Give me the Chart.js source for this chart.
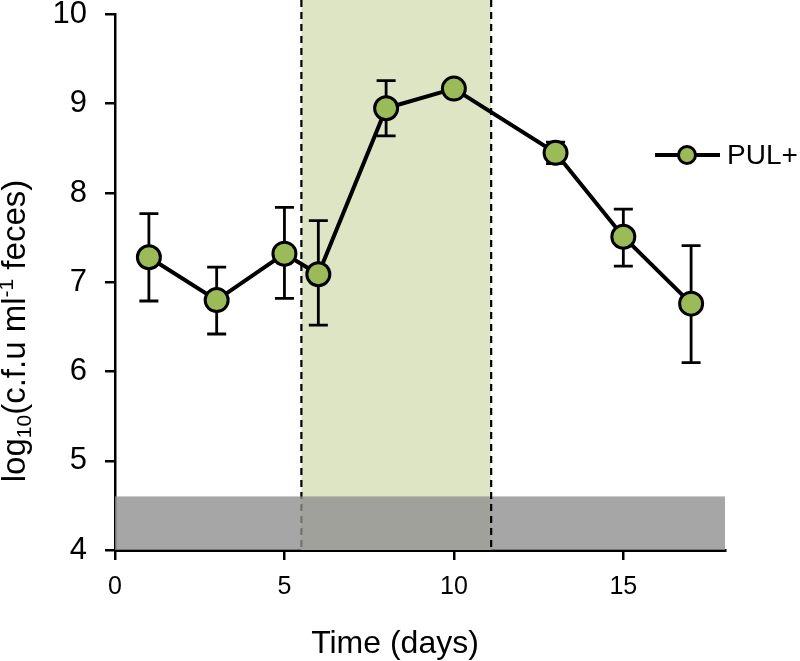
<!DOCTYPE html>
<html>
<head>
<meta charset="utf-8">
<script src="https://cdn.jsdelivr.net/npm/chart.js@4.4.1/dist/chart.umd.min.js"></script>
<style>
  html, body { margin: 0; padding: 0; background: #fff; }
  #wrap { width: 800px; height: 661px; position: relative; }
</style>
</head>
<body>
<div id="wrap"><canvas id="c" width="800" height="661"></canvas></div>
<script>
// ---- data ----
const seriesLabel = 'PUL+';
const days   = [1, 3, 5, 6, 8, 10, 13, 15, 17];
const means  = [7.28, 6.80, 7.32, 7.09, 8.95, 9.17, 8.45, 7.51, 6.76];
const errUp  = [0.49, 0.37, 0.52, 0.60, 0.31, 0.04, 0.12, 0.31, 0.65];
const errDn  = [0.49, 0.38, 0.50, 0.57, 0.31, 0.04, 0.12, 0.33, 0.66];
const xTicks = [0, 5, 10, 15];
const yTicks = [4, 5, 6, 7, 8, 9, 10];
const treatStart = 5.5;     // shaded treatment window (days)
const treatEnd   = 11.1;
const detectLimit = 4.6;    // limit of detection band (log10)
const xTitle = 'Time (days)';

const FONT = '"Liberation Sans", Arial, Helvetica, sans-serif';

const bandsPlugin = {
  id: 'bands',
  beforeDatasetsDraw(chart) {
    const { ctx, scales: { x, y } } = chart;
    const x0 = x.getPixelForValue(treatStart), x1 = x.getPixelForValue(treatEnd);
    const yb = y.getPixelForValue(4);
    ctx.save();
    // green treatment window
    ctx.fillStyle = '#dde5c4';
    ctx.fillRect(x0, 0, x1 - x0, yb);
    // dashed line (start) beneath detection band
    ctx.strokeStyle = '#000';
    ctx.lineWidth = 2.2;
    ctx.setLineDash([7, 5]);
    ctx.beginPath(); ctx.moveTo(x0, 0); ctx.lineTo(x0, yb); ctx.stroke();
    // detection band
    ctx.setLineDash([]);
    ctx.fillStyle = 'rgba(144,144,144,0.8)';
    const ly = y.getPixelForValue(detectLimit);
    ctx.fillRect(x.getPixelForValue(0), ly, x.getPixelForValue(18) - x.getPixelForValue(0), yb - ly);
    // dashed line (end) over band
    ctx.setLineDash([7, 5]);
    ctx.beginPath(); ctx.moveTo(x1, 0); ctx.lineTo(x1, yb); ctx.stroke();
    ctx.setLineDash([]);
    // error bars
    ctx.strokeStyle = '#000';
    ctx.lineWidth = 2.8;
    for (let i = 0; i < days.length; i++) {
      const px = x.getPixelForValue(days[i]);
      const pt = y.getPixelForValue(means[i] + errUp[i]);
      const pb = y.getPixelForValue(means[i] - errDn[i]);
      ctx.beginPath();
      ctx.moveTo(px, pt); ctx.lineTo(px, pb);
      ctx.moveTo(px - 9.5, pt); ctx.lineTo(px + 9.5, pt);
      ctx.moveTo(px - 9.5, pb); ctx.lineTo(px + 9.5, pb);
      ctx.stroke();
    }
    ctx.restore();
  },
  afterDraw(chart) {
    const { ctx } = chart;
    ctx.save();
    // legend
    const ly = 155;
    ctx.strokeStyle = '#000';
    ctx.lineWidth = 4;
    ctx.beginPath(); ctx.moveTo(655, ly); ctx.lineTo(720, ly); ctx.stroke();
    ctx.beginPath(); ctx.arc(687, ly, 8.5, 0, Math.PI * 2);
    ctx.fillStyle = '#9bbb59'; ctx.fill();
    ctx.lineWidth = 3; ctx.stroke();
    ctx.fillStyle = '#000';
    ctx.font = '28px ' + FONT;
    ctx.textAlign = 'left'; ctx.textBaseline = 'middle';
    ctx.fillText(seriesLabel, 727, ly + 1);

    // x title
    ctx.font = '32px ' + FONT;
    ctx.textAlign = 'center'; ctx.textBaseline = 'alphabetic';
    ctx.fillText(xTitle, 395, 653);

    // y title with subscript / superscript
    const big = 33, small = 21;
    const parts = [
      { t: 'log', s: big, dy: 0 },
      { t: '10', s: small, dy: 6 },
      { t: '(c.f.u ml', s: big, dy: 0 },
      { t: '-1', s: small, dy: -12 },
      { t: ' feces)', s: big, dy: 0 }
    ];
    let total = 0;
    parts.forEach(p => { ctx.font = p.s + 'px ' + FONT; p.w = ctx.measureText(p.t).width; total += p.w; });
    ctx.translate(25, 331);
    ctx.rotate(-Math.PI / 2);
    ctx.textAlign = 'left'; ctx.textBaseline = 'alphabetic';
    let cx = -total / 2;
    parts.forEach(p => {
      ctx.font = p.s + 'px ' + FONT;
      ctx.fillText(p.t, cx, p.dy);
      cx += p.w;
    });
    ctx.restore();
  }
};

function zeroPad(s) { s.paddingTop = 0; s.paddingBottom = 0; s.paddingLeft = 0; s.paddingRight = 0; }

new Chart(document.getElementById('c'), {
  type: 'scatter',
  data: {
    datasets: [{
      label: seriesLabel,
      data: days.map((d, i) => ({ x: d, y: means[i] })),
      showLine: true,
      borderColor: '#000',
      borderWidth: 4,
      pointRadius: 11.5,
      pointHoverRadius: 11.5,
      pointBackgroundColor: '#9bbb59',
      pointBorderColor: '#000',
      pointBorderWidth: 3,
      pointHoverBorderWidth: 3
    }]
  },
  options: {
    responsive: false,
    animation: false,
    events: [],
    layout: { padding: { left: 0, right: 75, top: 12, bottom: 0 } },
    plugins: { legend: { display: false }, tooltip: { enabled: false } },
    scales: {
      x: {
        type: 'linear', min: 0, max: 18,
        afterBuildTicks(s) { s.ticks = xTicks.map(v => ({ value: v })); },
        afterFit(s) { s.height = 111; zeroPad(s); },
        grid: { display: true, drawOnChartArea: false, drawTicks: true, tickLength: 10, color: '#000', lineWidth: 2.5 },
        border: { display: true, color: '#000', width: 3 },
        ticks: { color: '#000', font: { family: FONT, size: 25, lineHeight: 1 }, padding: 15, maxRotation: 0 }
      },
      y: {
        type: 'linear', min: 4, max: 10,
        afterBuildTicks(s) { s.ticks = yTicks.map(v => ({ value: v })); },
        afterFit(s) { s.width = 115; zeroPad(s); },
        grid: { display: true, drawOnChartArea: false, drawTicks: true, tickLength: 10, color: '#000', lineWidth: 2.5 },
        border: { display: true, color: '#000', width: 2.5 },
        ticks: { color: '#000', font: { family: FONT, size: 31, lineHeight: 1 }, padding: 18 }
      }
    }
  },
  plugins: [bandsPlugin]
});
</script>
</body>
</html>
